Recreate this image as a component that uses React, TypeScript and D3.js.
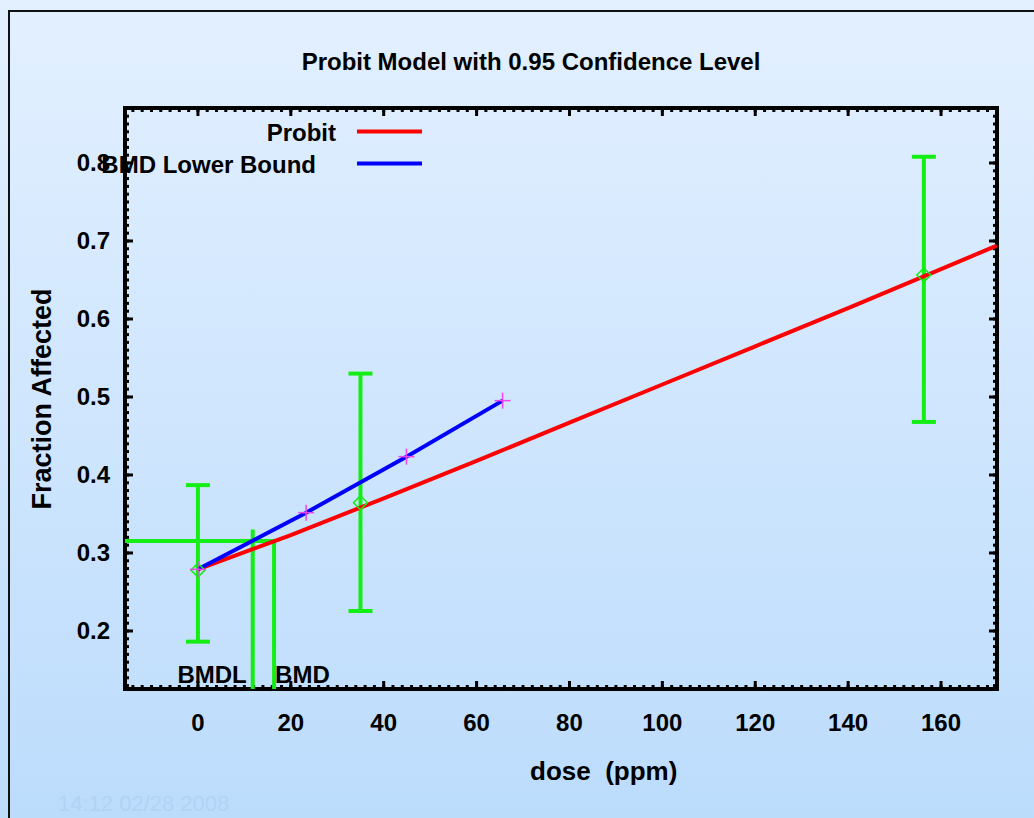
import * as d3 from 'd3'

// observed data (dose, mean fraction, lower/upper CI)
const doses = [0, 35, 156.3]
const means = [0.278, 0.3645, 0.6564]
const ciLow = [0.1863, 0.2256, 0.468]
const ciHigh = [0.387, 0.53, 0.808]

// fitted probit curve
const probitDose = [0, 20, 40, 60, 80, 100, 120, 140, 160, 172]
const probitFrac = [0.279, 0.323, 0.370, 0.418, 0.467, 0.516, 0.565, 0.614, 0.664, 0.694]

// BMD lower bound curve
const lowerDose = [0, 23.3, 44.9, 65.6]
const lowerFrac = [0.279, 0.3517, 0.4235, 0.4953]

const bmr = 0.3154
const bmd = 16.4
const bmdl = 11.8
const bmdlTop = 0.33

const xTicks = [0, 20, 40, 60, 80, 100, 120, 140, 160]
const yTicks = [0.2, 0.3, 0.4, 0.5, 0.6, 0.7, 0.8]

const W = 1034
const H = 818
const FONT = '"Liberation Sans", Arial, sans-serif'
const GREEN = '#14ee14'

export default function App() {
  const left = 125, right = 997, top = 108, bottom = 689
  const x = d3.scaleLinear().domain([-15.7, 172.05]).range([left, right])
  const y = d3.scaleLinear().domain([0.1256, 0.8705]).range([bottom, top])

  const line = d3.line<[number, number]>().x(d => x(d[0])).y(d => y(d[1]))
  const probitPts = probitDose.map((d, i) => [d, probitFrac[i]] as [number, number])
  const lowerPts = lowerDose.map((d, i) => [d, lowerFrac[i]] as [number, number])

  const xMinor = d3.range(-14, 172.05, 2)
  const yMinor = d3.range(0.13, 0.8705, 0.01)

  const minorLen = 4, majorLen = 8

  return (
    <svg width={W} height={H} style={{ position: 'absolute', left: 0, top: 0, display: 'block' }}>
      <defs>
        <linearGradient id="bg" x1="0" y1="0" x2="0" y2="1">
          <stop offset="0" stopColor="#e3f0ff" />
          <stop offset="1" stopColor="#bcdcfc" />
        </linearGradient>
        <clipPath id="plotClip">
          <rect x={left} y={top} width={right - left} height={bottom - top} />
        </clipPath>
      </defs>
      <rect x={0} y={0} width={W} height={H} fill="url(#bg)" />
      <path d={`M9,${H} V11 H${W}`} fill="none" stroke="#111" strokeWidth={2} />

      {/* title */}
      <text x={531} y={70} textAnchor="middle" fontFamily={FONT} fontWeight="bold" fontSize={24}>
        Probit Model with 0.95 Confidence Level
      </text>

      {/* minor ticks */}
      <g stroke="#000" strokeWidth={3}>
        {xMinor.map(v => (
          <g key={'xm' + v}>
            <line x1={x(v)} x2={x(v)} y1={bottom} y2={bottom - minorLen} />
            <line x1={x(v)} x2={x(v)} y1={top} y2={top + minorLen} />
          </g>
        ))}
        {yMinor.map(v => (
          <g key={'ym' + v}>
            <line x1={left} x2={left + minorLen} y1={y(v)} y2={y(v)} />
            <line x1={right} x2={right - minorLen} y1={y(v)} y2={y(v)} />
          </g>
        ))}
        {xTicks.map(v => (
          <g key={'xM' + v}>
            <line x1={x(v)} x2={x(v)} y1={bottom} y2={bottom - majorLen} />
            <line x1={x(v)} x2={x(v)} y1={top} y2={top + majorLen} />
          </g>
        ))}
        {yTicks.map(v => (
          <g key={'yM' + v}>
            <line x1={left} x2={left + majorLen} y1={y(v)} y2={y(v)} />
            <line x1={right} x2={right - majorLen} y1={y(v)} y2={y(v)} />
          </g>
        ))}
      </g>
      <rect x={left} y={top} width={right - left} height={bottom - top} fill="none" stroke="#000" strokeWidth={4} />

      {/* tick labels */}
      <g fontFamily={FONT} fontWeight="bold" fontSize={24}>
        {xTicks.map(v => (
          <text key={'xl' + v} x={x(v)} y={731} textAnchor="middle">{v}</text>
        ))}
        {yTicks.map(v => (
          <text key={'yl' + v} x={110} y={y(v)} dy="0.35em" textAnchor="end">{v.toFixed(1)}</text>
        ))}
      </g>

      {/* axis titles */}
      <text x={530} y={780} fontFamily={FONT} fontWeight="bold" fontSize={26} style={{ whiteSpace: 'pre' }}>
        {'dose  (ppm)'}
      </text>
      <text transform="translate(51,399) rotate(-90)" textAnchor="middle" fontFamily={FONT} fontWeight="bold" fontSize={27}>
        Fraction Affected
      </text>

      <g clipPath="url(#plotClip)">
        {/* BMD / BMDL markers */}
        <g stroke={GREEN} strokeWidth={4} fill="none">
          <line x1={left} x2={x(bmd)} y1={y(bmr)} y2={y(bmr)} />
          <line x1={x(bmd)} x2={x(bmd)} y1={bottom} y2={y(bmr)} />
          <line x1={x(bmdl)} x2={x(bmdl)} y1={bottom} y2={y(bmdlTop)} />
        </g>

        {/* error bars */}
        <g stroke={GREEN} strokeWidth={4}>
          {doses.map((d, i) => (
            <g key={'eb' + i}>
              <line x1={x(d)} x2={x(d)} y1={y(ciLow[i])} y2={y(ciHigh[i])} />
              <line x1={x(d) - 12} x2={x(d) + 12} y1={y(ciLow[i])} y2={y(ciLow[i])} />
              <line x1={x(d) - 12} x2={x(d) + 12} y1={y(ciHigh[i])} y2={y(ciHigh[i])} />
            </g>
          ))}
        </g>

        <path d={line(probitPts) ?? ''} fill="none" stroke="#ff0000" strokeWidth={4} />
        <path d={line(lowerPts) ?? ''} fill="none" stroke="#0000ff" strokeWidth={4} />

        {/* means */}
        {doses.map((d, i) => (
          <path key={'pt' + i}
            d={`M${x(d)},${y(means[i]) - 7} L${x(d) + 7},${y(means[i])} L${x(d)},${y(means[i]) + 7} L${x(d) - 7},${y(means[i])} Z`}
            fill="none" stroke={GREEN} strokeWidth={1.5} />
        ))}

        {/* lower bound points */}
        <g stroke="#ee44ee" strokeWidth={1.5}>
          {lowerPts.map((p, i) => (
            <g key={'lp' + i}>
              <line x1={x(p[0]) - 8} x2={x(p[0]) + 8} y1={y(p[1])} y2={y(p[1])} />
              <line x1={x(p[0])} x2={x(p[0])} y1={y(p[1]) - 8} y2={y(p[1]) + 8} />
            </g>
          ))}
        </g>
      </g>

      <g fontFamily={FONT} fontWeight="bold" fontSize={24}>
        <text x={x(bmdl) - 6} y={683} textAnchor="end">BMDL</text>
        <text x={x(bmd) + 1} y={683}>BMD</text>
      </g>

      {/* legend */}
      <g fontFamily={FONT} fontWeight="bold" fontSize={24}>
        <text x={336} y={141} textAnchor="end">Probit</text>
        <line x1={357} x2={422} y1={131.5} y2={131.5} stroke="#ff0000" strokeWidth={4} />
        <text x={316} y={173} textAnchor="end">BMD Lower Bound</text>
        <line x1={357} x2={422} y1={163.5} y2={163.5} stroke="#0000ff" strokeWidth={4} />
      </g>

      <text x={58} y={811} fontFamily={FONT} fontSize={22} fill="#b2d3f5">14:12 02/28 2008</text>
    </svg>
  )
}
